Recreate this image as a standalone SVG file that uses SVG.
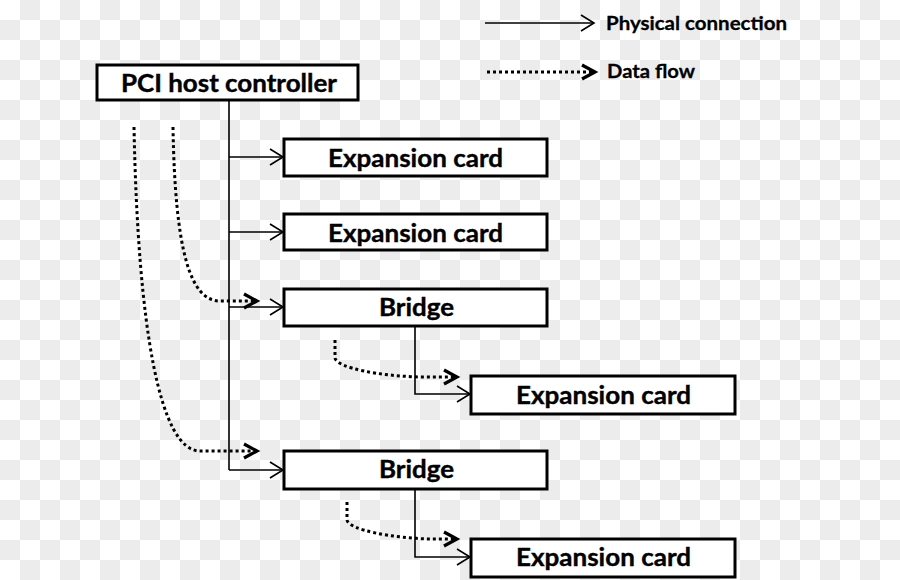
<svg xmlns="http://www.w3.org/2000/svg" width="900" height="580" viewBox="0 0 900 580">
<defs>
<pattern id="checker" x="0" y="0" width="40" height="40" patternUnits="userSpaceOnUse">
<rect width="40" height="40" fill="#ffffff"/>
<rect x="20" y="0" width="20" height="20" fill="#ececec"/>
<rect x="0" y="20" width="20" height="20" fill="#ececec"/>
</pattern>
<marker id="open" markerUnits="userSpaceOnUse" markerWidth="16" markerHeight="20" refX="14" refY="10" orient="auto" overflow="visible">
<path d="M1,2 L14,10 L1,18" fill="none" stroke="#000" stroke-width="1.6"/>
</marker>
<marker id="bold" markerUnits="userSpaceOnUse" markerWidth="16" markerHeight="20" refX="14" refY="10" orient="auto" overflow="visible">
<path d="M1,3 L14,10 L1,17" fill="none" stroke="#000" stroke-width="3.2" stroke-linejoin="miter"/>
</marker>
</defs>
<style>
.box{fill:#fff;stroke:#000;stroke-width:3}
.lbl{font-family:Lato,"Liberation Sans",sans-serif;font-weight:bold;font-size:25px;fill:#000;stroke:#000;stroke-width:0.4}
.leg{font-family:Lato,"Liberation Sans",sans-serif;font-weight:bold;font-size:19px;fill:#000;stroke:#000;stroke-width:0.3}
.phys{fill:none;stroke:#000;stroke-width:1.6}
.flow{fill:none;stroke:#000;stroke-width:3;stroke-dasharray:3 3}
</style>
<rect width="900" height="580" fill="url(#checker)"/>
<g id="connectors">
<path class="phys" d="M229,100 L229,470"/>
<path class="phys" d="M229,157 L283,157" marker-end="url(#open)"/>
<path class="phys" d="M229,232 L283,232" marker-end="url(#open)"/>
<path class="phys" d="M229,307 L283,307" marker-end="url(#open)"/>
<path class="phys" d="M229,470 L283,470" marker-end="url(#open)"/>
<path class="phys" d="M415,327 L415,394 L470,394" marker-end="url(#open)"/>
<path class="phys" d="M415,490 L415,557 L470,557" marker-end="url(#open)"/>
<path class="flow" d="M173,127 C175,250 190,301 220,301 L257,301" marker-end="url(#bold)"/>
<path class="flow" d="M134,127 C138,330 160,451 200,451 L257,451" marker-end="url(#bold)"/>
<path class="flow" d="M335,340 L335,358 C337,368 380,376 420,377 L457,377" marker-end="url(#bold)"/>
<path class="flow" d="M347,502 L347,520 C349,530 392,538 430,539 L457,539" marker-end="url(#bold)"/>
</g>
<g id="legend">
<path class="phys" d="M485,23 L594,23" marker-end="url(#open)"/>
<text class="leg" x="606" y="30" textLength="181" lengthAdjust="spacingAndGlyphs">Physical connection</text>
<path class="flow" d="M487,72 L595,72" marker-end="url(#bold)"/>
<text class="leg" x="607" y="78" textLength="88" lengthAdjust="spacingAndGlyphs">Data flow</text>
</g>
<g id="pci-host">
<rect class="box" x="97" y="65" width="261" height="35"/>
<text class="lbl" x="121" y="92" textLength="216" lengthAdjust="spacingAndGlyphs">PCI host controller</text>
</g>
<g id="exp1">
<rect class="box" x="284" y="139" width="263" height="37"/>
<text class="lbl" x="328" y="167" textLength="175" lengthAdjust="spacingAndGlyphs">Expansion card</text>
</g>
<g id="exp2">
<rect class="box" x="284" y="214" width="263" height="36"/>
<text class="lbl" x="328" y="242" textLength="175" lengthAdjust="spacingAndGlyphs">Expansion card</text>
</g>
<g id="bridge1">
<rect class="box" x="284" y="289" width="263" height="37"/>
<text class="lbl" x="379" y="316" textLength="75" lengthAdjust="spacingAndGlyphs">Bridge</text>
</g>
<g id="exp3">
<rect class="box" x="471" y="376" width="264" height="38"/>
<text class="lbl" x="516" y="404" textLength="175" lengthAdjust="spacingAndGlyphs">Expansion card</text>
</g>
<g id="bridge2">
<rect class="box" x="284" y="451" width="263" height="38"/>
<text class="lbl" x="379" y="478" textLength="75" lengthAdjust="spacingAndGlyphs">Bridge</text>
</g>
<g id="exp4">
<rect class="box" x="471" y="539" width="264" height="38"/>
<text class="lbl" x="516" y="566" textLength="175" lengthAdjust="spacingAndGlyphs">Expansion card</text>
</g>
</svg>
